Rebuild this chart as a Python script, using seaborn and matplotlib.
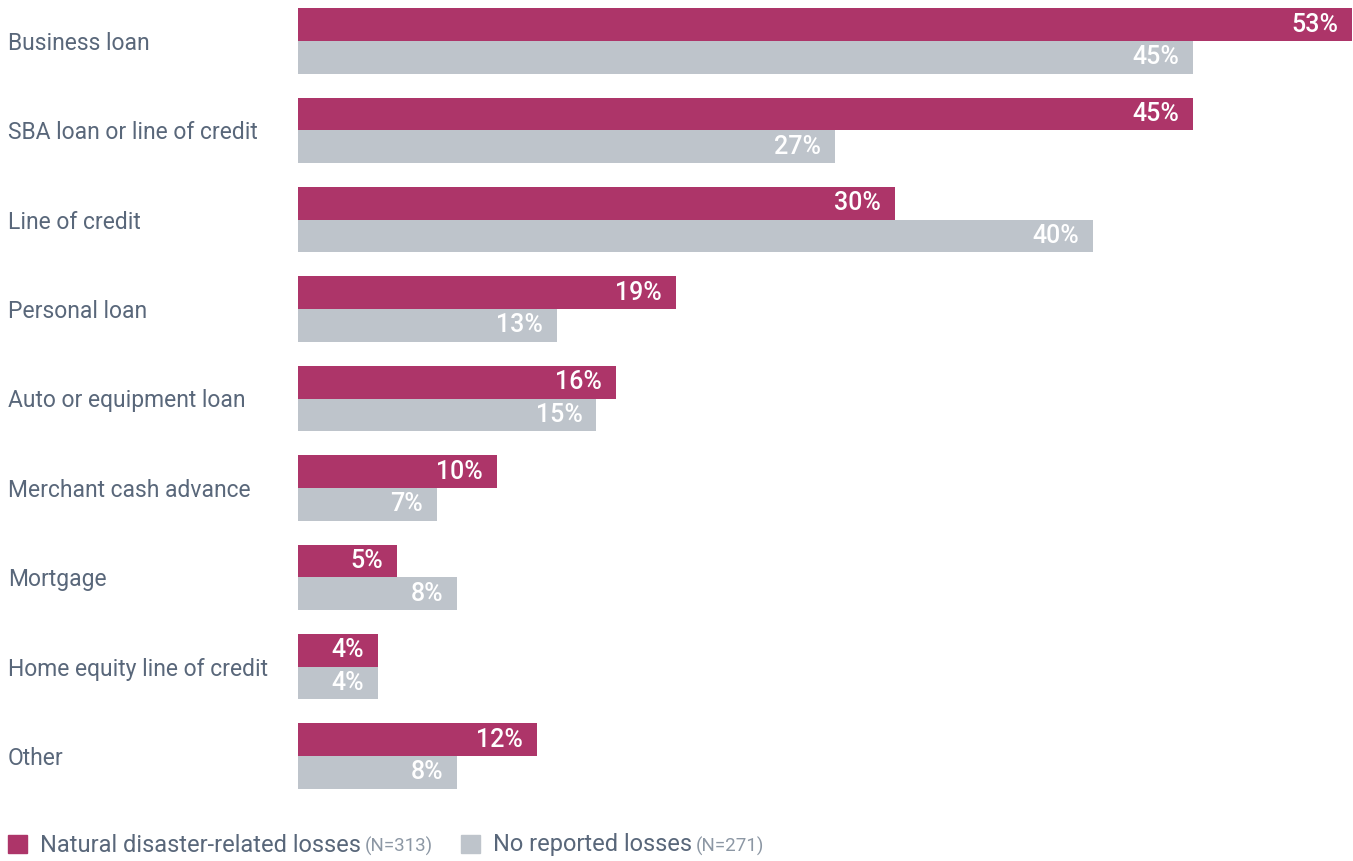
import matplotlib
matplotlib.use("Agg")
import matplotlib.pyplot as plt
from matplotlib.patches import Rectangle
import seaborn as sns
import pandas as pd

categories = ["Business loan", "SBA loan or line of credit", "Line of credit", "Personal loan",
              "Auto or equipment loan", "Merchant cash advance", "Mortgage",
              "Home equity line of credit", "Other"]
natural = [53, 45, 30, 19, 16, 10, 5, 4, 12]
no_loss = [45, 27, 40, 13, 15, 7, 8, 4, 8]
groups = ["Natural disaster-related losses", "No reported losses"]
group_n = ["(N=313)", "(N=271)"]
colors = ["#AD3569", "#BEC4CB"]

TEXT = "#59677A"
NTEXT = "#8C97A4"

sns.set_theme(style="white")
plt.rcParams["font.family"] = ["Roboto", "DejaVu Sans"]

df = pd.DataFrame({
    "category": categories * 2,
    "value": natural + no_loss,
    "group": [groups[0]] * len(categories) + [groups[1]] * len(categories),
})

W, H = 1353, 861
fig = plt.figure(figsize=(W / 100, H / 100), dpi=100)
step = 89.4
top_px = 41 - step / 2
bot_px = 756 + step / 2
ax = fig.add_axes([298 / W, 1 - bot_px / H, (1352 - 298) / W, (bot_px - top_px) / H])

sns.barplot(data=df, y="category", x="value", hue="group", orient="h",
            palette=colors, width=0.73, saturation=1, legend=False, ax=ax,
            errorbar=None, linewidth=0)

ax.set_xlim(0, 53)
ax.set_ylim(len(categories) - 0.5, -0.5)
ax.set_xlabel("")
ax.set_ylabel("")
ax.set_xticks([])
for s in ax.spines.values():
    s.set_visible(False)
ax.tick_params(axis="y", length=0, pad=290 * 72 / 100)
for lab in ax.get_yticklabels():
    lab.set_ha("left")
    lab.set_color(TEXT)
    lab.set_fontsize(16.5)

for cont in ax.containers:
    for p in cont:
        v = p.get_width()
        ax.annotate(f"{v:.0f}%", (v, p.get_y() + p.get_height() / 2),
                    xytext=(-10, 0), textcoords="offset points",
                    ha="right", va="center", color="white", fontsize=18,
                    fontweight="medium")

# legend
fig.canvas.draw()
r = fig.canvas.get_renderer()
x = 8
yc = 1 - 845 / H
for g, n, c in zip(groups, group_n, colors):
    fig.patches.append(Rectangle((x / W, 1 - 853 / H), 19 / W, 18 / H,
                                 transform=fig.transFigure, color=c, figure=fig))
    x += 32
    t = fig.text(x / W, yc, g, color=TEXT, fontsize=17, va="center", ha="left")
    x = t.get_window_extent(r).x1 + 4
    t2 = fig.text(x / W, yc - 1 / H, n, color=NTEXT, fontsize=13.5, va="center", ha="left")
    x = t2.get_window_extent(r).x1 + 28

fig.savefig("out.png", dpi=100)
